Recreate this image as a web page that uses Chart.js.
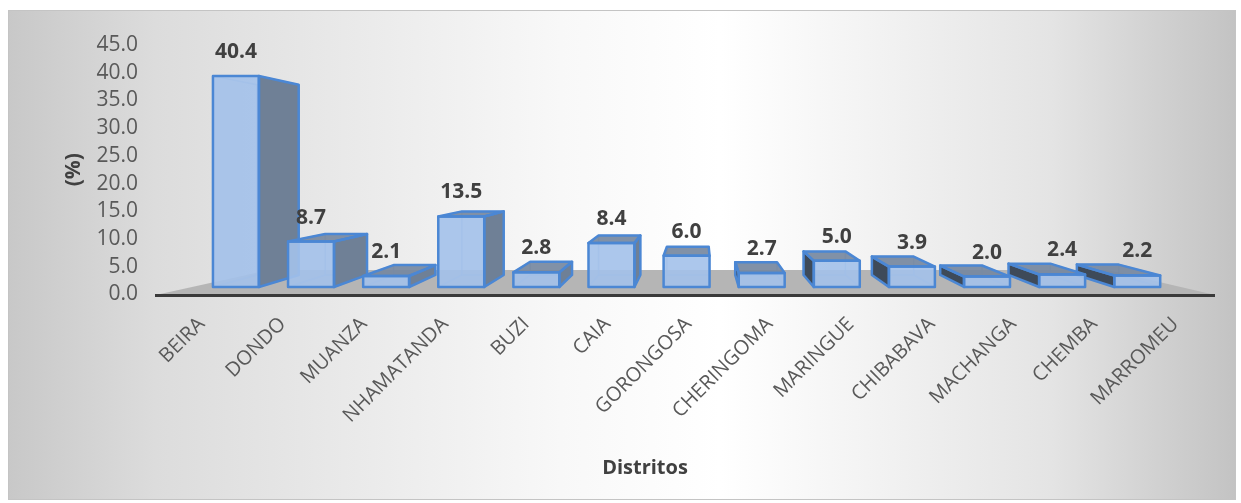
<!DOCTYPE html>
<html>
<head>
<meta charset="utf-8">
<script src="https://cdn.jsdelivr.net/npm/chart.js@4.4.1/dist/chart.umd.min.js"></script>
<style>
  html, body { margin: 0; padding: 0; background: #fff; }
  canvas { display: block; }
</style>
</head>
<body>
<canvas id="distritos" width="1241" height="503"></canvas>
<script>
const distritos = ["BEIRA", "DONDO", "MUANZA", "NHAMATANDA", "BUZI", "CAIA", "GORONGOSA", "CHERINGOMA", "MARINGUE", "CHIBABAVA", "MACHANGA", "CHEMBA", "MARROMEU"];
const percentagens = [40.4, 8.7, 2.1, 13.5, 2.8, 8.4, 6.0, 2.7, 5.0, 3.9, 2.0, 2.4, 2.2];
const ticksY = [0, 5, 10, 15, 20, 25, 30, 35, 40, 45];
const tituloX = "Distritos";
const tituloY = "(%)";

// perspectiva simples para imitar as barras 3D do Excel
const VP = { x: 700, y: 165 };
const FRENTE = { sx: 0.9255, sy: 0.942 };
const FUNDO = { sx: 0.842, sy: 0.849 };
const CHAO = { sx: 0.795, sy: 0.81 };

const FONTE = "'Open Sans', sans-serif";
const AZUL = "#4b87d4";

const proj = (X, Y, d) => [VP.x + (X - VP.x) * d.sx, VP.y + (Y - VP.y) * d.sy];

function poligono(ctx, pts) {
  ctx.beginPath();
  ctx.moveTo(pts[0][0], pts[0][1]);
  for (let i = 1; i < pts.length; i++) ctx.lineTo(pts[i][0], pts[i][1]);
  ctx.closePath();
}

function caixa(ctx, b) {
  const xl = b.x - b.width / 2, xr = b.x + b.width / 2;
  const yt = b.y, yb = b.base;
  const f = [proj(xl, yt, FRENTE), proj(xr, yt, FRENTE), proj(xr, yb, FRENTE), proj(xl, yb, FRENTE)];
  const t = [proj(xl, yt, FUNDO), proj(xr, yt, FUNDO), proj(xr, yb, FUNDO), proj(xl, yb, FUNDO)];

  ctx.save();
  ctx.lineJoin = "round";

  // arestas de tras (vistas atraves da frente)
  ctx.strokeStyle = "rgba(120,160,215,0.55)";
  ctx.lineWidth = 1.5;
  poligono(ctx, t);
  ctx.stroke();
  ctx.beginPath();
  for (let i = 0; i < 4; i++) { ctx.moveTo(f[i][0], f[i][1]); ctx.lineTo(t[i][0], t[i][1]); }
  ctx.stroke();

  const faces = [];
  if (xr < VP.x) faces.push({ pts: [f[1], t[1], t[2], f[2]], cor: "#6f8096" });
  if (xl > VP.x) faces.push({ pts: [f[0], t[0], t[3], f[3]], cor: "#3e4a59" });
  if (yt > VP.y) faces.push({ pts: [f[0], f[1], t[1], t[0]], cor: "rgba(118,136,160,0.92)" });
  faces.push({ pts: f, cor: "rgba(163,193,234,0.9)" });

  faces.forEach(fc => {
    poligono(ctx, fc.pts);
    ctx.fillStyle = fc.cor;
    ctx.fill();
  });
  ctx.strokeStyle = AZUL;
  ctx.lineWidth = 2.5;
  faces.forEach(fc => {
    poligono(ctx, fc.pts);
    ctx.stroke();
  });
  ctx.restore();
  return f;
}

const tresD = {
  id: "tresD",
  beforeDraw(chart) {
    const { ctx, width, height } = chart;
    ctx.save();
    ctx.fillStyle = "#fff";
    ctx.fillRect(0, 0, width, height);
    const g = ctx.createLinearGradient(8, 0, 1236, 0);
    g.addColorStop(0, "#c8c8c8");
    g.addColorStop(0.12, "#dcdcdc");
    g.addColorStop(0.45, "#f8f8f8");
    g.addColorStop(0.58, "#ffffff");
    g.addColorStop(0.85, "#e4e4e4");
    g.addColorStop(1, "#c3c3c3");
    ctx.fillStyle = g;
    ctx.fillRect(8.5, 10.5, 1227, 489);
    ctx.strokeStyle = "#c4c4c4";
    ctx.lineWidth = 1;
    ctx.strokeRect(8.5, 10.5, 1227, 489);
    ctx.restore();
  },
  beforeDatasetsDraw(chart) {
    const { ctx, chartArea: a, scales: { y } } = chart;
    const y0 = y.getPixelForValue(0);
    ctx.save();
    poligono(ctx, [[a.left, y0], [a.right, y0], proj(a.right, y0, CHAO), proj(a.left, y0, CHAO)]);
    ctx.fillStyle = "#b5b5b5";
    ctx.fill();
    ctx.strokeStyle = "#3a3a3a";
    ctx.lineWidth = 3;
    ctx.beginPath();
    ctx.moveTo(a.left - 3, y0 + 1);
    ctx.lineTo(a.right + 2, y0 + 1);
    ctx.stroke();
    ctx.restore();
  },
  afterDatasetsDraw(chart) {
    const { ctx } = chart;
    const barras = chart.getDatasetMeta(0).data;
    const ordem = barras.map((b, i) => i).sort((i, j) => Math.abs(barras[j].x - VP.x) - Math.abs(barras[i].x - VP.x));
    const frentes = [];
    ordem.forEach(i => { frentes[i] = caixa(ctx, barras[i]); });

    ctx.save();
    ctx.font = "bold 21px " + FONTE;
    ctx.fillStyle = "#404040";
    ctx.textAlign = "center";
    ctx.textBaseline = "middle";
    percentagens.forEach((v, i) => {
      const f = frentes[i];
      ctx.fillText(v.toFixed(1), (f[0][0] + f[1][0]) / 2, f[0][1] - 24);
    });
    ctx.restore();
  },
  afterDraw(chart) {
    const { ctx } = chart;
    ctx.save();
    ctx.font = "bold 20px " + FONTE;
    ctx.fillStyle = "#404040";
    ctx.textAlign = "center";
    ctx.textBaseline = "middle";
    ctx.fillText(tituloX, 645, 468);
    ctx.restore();
  }
};

new Chart(document.getElementById("distritos"), {
  type: "bar",
  data: {
    labels: distritos,
    datasets: [{
      label: tituloY,
      data: percentagens,
      backgroundColor: "rgba(0,0,0,0)",
      borderWidth: 0,
      barPercentage: 0.612,
      categoryPercentage: 1
    }]
  },
  options: {
    responsive: false,
    animation: false,
    devicePixelRatio: 1,
    layout: { padding: { left: 50, right: 28, top: 45, bottom: 8 } },
    plugins: { legend: { display: false }, tooltip: { enabled: false } },
    scales: {
      x: {
        grid: { display: false, drawTicks: false },
        border: { display: false },
        ticks: {
          autoSkip: false,
          minRotation: 45,
          maxRotation: 45,
          padding: 18,
          labelOffset: 3,
          color: "#595959",
          font: { family: FONTE, size: 20 }
        },
        afterFit: s => { s.height = 200.5; }
      },
      y: {
        min: 0,
        max: 45,
        grid: { display: false, drawTicks: false },
        border: { display: false },
        afterBuildTicks: s => { s.ticks = ticksY.map(v => ({ value: v })); },
        ticks: {
          autoSkip: false,
          padding: 20,
          color: "#595959",
          font: { family: FONTE, size: 21 },
          callback: v => Number(v).toFixed(1)
        },
        title: {
          display: true,
          text: tituloY,
          color: "#404040",
          font: { family: FONTE, size: 21, weight: "bold" },
          padding: { top: 11, bottom: 0 }
        },
        afterFit: s => { s.width = 108; }
      }
    }
  },
  plugins: [tresD]
});
</script>
</body>
</html>
